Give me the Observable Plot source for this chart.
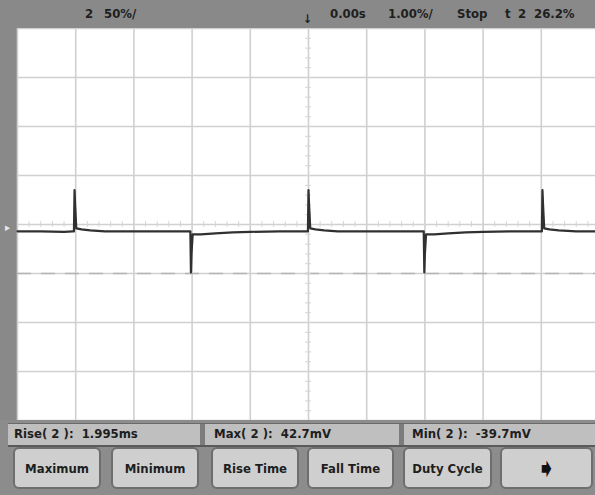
<!DOCTYPE html>
<html><head><meta charset="utf-8">
<script src="https://cdn.jsdelivr.net/npm/d3@7"></script>
<script src="https://cdn.jsdelivr.net/npm/@observablehq/plot@0.6"></script>
<style>
html,body{margin:0;padding:0;background:#8c8c8c;}
#scope{position:relative;width:595px;height:495px;overflow:hidden;background:#8c8c8c;
  font-family:"Liberation Sans Narrow","DejaVu Sans Condensed",sans-serif;font-weight:bold;color:#1e1e1e;}
.t{position:absolute;white-space:pre;font-size:13px;line-height:14px;}
#top{position:absolute;left:0;top:0;width:595px;height:28px;background:#898989;}
#plot{position:absolute;left:0;top:28px;}
#meas{position:absolute;left:8px;top:423px;width:587px;height:21px;background:#bfbfbf;border-top:1px solid #6a6a6a;border-bottom:2px solid #5a5a5a;}
.sep{position:absolute;top:0;width:5px;height:21px;background:#7c7c7c;}
.btn{position:absolute;top:447px;height:42px;background:#cfcfcf;border:2px solid #6e6e6e;border-radius:6px;box-sizing:border-box;
  display:flex;align-items:center;justify-content:center;font-size:13px;white-space:pre;}
</style></head>
<body>
<div id="scope">
  <div id="top"></div>
  <div id="plot"></div>
  <div id="meas"></div>
</div>
<script>
// ---- data ----
const timeTicks = [-5,-4,-3,-2,-1,0,1,2,3,4,5];            // ms, 1.00 ms/div
const voltTicks = [-200,-150,-100,-50,0,50,100,150,200];    // mV, 50 mV/div
const markerLevel = [-50];                                  // dashed level line (mV)
const traceT = [-5.00,-4.60,-4.20,-4.05,-4.03,-4.02,-4.01,-3.99,-3.90,-3.75,-3.50,-3.00,-2.50,-2.05,-2.03,-2.02,-2.01,-1.99,-1.85,-1.60,-1.30,-1.00,-0.50,-0.03,-0.01,0.00,0.01,0.03,0.12,0.27,0.50,1.00,1.50,1.96,1.98,1.99,2.00,2.02,2.16,2.40,2.70,3.00,3.50,3.99,4.01,4.02,4.03,4.05,4.14,4.30,4.60,5.00];
const traceV = [-7,-7,-7.5,-7,-7,35,20,-4,-5,-6,-7,-7,-7,-7,-7,-49,-30,-10,-10,-9,-8,-7.5,-7,-7,-7,35,20,-4,-5,-6,-7,-7,-7,-7,-7,-49,-30,-10,-10,-9,-8,-7.5,-7,-7,-7,35,20,-4,-5,-6,-7,-7];
const topLabels = [
  {text:"2", x:85}, {text:"50%/", x:104},
  {text:"0.00s", x:330}, {text:"1.00%/", x:388}, {text:"Stop", x:457},
  {text:"t", x:505}, {text:"2", x:518}, {text:"26.2%", x:534}
];
const measLabels = [
  {text:"Rise( 2 ):  1.995ms", x:14},
  {text:"Max( 2 ):  42.7mV", x:214},
  {text:"Min( 2 ):  -39.7mV", x:412}
];
const measSeps = [200, 399];
const buttons = [
  {label:"Maximum", x:13, w:88},
  {label:"Minimum", x:111, w:88},
  {label:"Rise Time", x:211, w:88},
  {label:"Fall Time", x:307, w:87},
  {label:"Duty Cycle", x:403, w:89},
  {label:"➧", x:500, w:93}
];
// ---- build ----
const trace = traceT.map((t,i)=>({t, v: traceV[i]}));
const minorT = d3.range(-5, 5.001, 0.2);
const minorV = d3.range(-200, 200.001, 10);

const chart = Plot.plot({
  width: 595, height: 392,
  marginLeft: 17, marginRight: 0, marginTop: 0, marginBottom: 0,
  x: {domain: [-5, 5], range: [17, 599], axis: null},
  y: {domain: [-200, 200], axis: null},
  style: {background: "#898989", overflow: "hidden"},
  marks: [
    Plot.frame({fill: "white", stroke: "none"}),
    Plot.ruleX(timeTicks, {stroke: "#d0d0d0", strokeWidth: 1.6}),
    Plot.ruleY(voltTicks, {stroke: "#d0d0d0", strokeWidth: 1.6}),
    Plot.ruleY(markerLevel, {stroke: "#b4b4b4", strokeWidth: 1.6, strokeDasharray: "14,10"}),
    Plot.ruleX(minorT, {y1: -3, y2: 3, stroke: "#d4d4d4", strokeWidth: 1}),
    Plot.ruleY(minorV, {x1: -0.05, x2: 0.05, stroke: "#d4d4d4", strokeWidth: 1}),
    Plot.line(trace, {x: "t", y: "v", stroke: "#303030", strokeWidth: 2.2})
  ]
});
document.getElementById("plot").appendChild(chart);

const scope = document.getElementById("scope");
const topBar = document.getElementById("top");
for (const l of topLabels) {
  const s = document.createElement("span");
  s.className = "t"; s.textContent = l.text;
  s.style.left = l.x + "px"; s.style.top = "7px";
  topBar.appendChild(s);
}
const trig = document.createElement("span");
trig.className = "t"; trig.textContent = "↓"; trig.style.left = "303px"; trig.style.top = "12px"; trig.style.fontSize = "12px";
topBar.appendChild(trig);
const gnd = document.createElement("span");
gnd.className = "t"; gnd.textContent = "▸"; gnd.style.left = "5px"; gnd.style.top = "221px"; gnd.style.color = "#e8e8e8"; gnd.style.fontSize = "11px";
scope.appendChild(gnd);

const meas = document.getElementById("meas");
for (const l of measLabels) {
  const s = document.createElement("span");
  s.className = "t"; s.textContent = l.text;
  s.style.left = (l.x - 8) + "px"; s.style.top = "3px";
  meas.appendChild(s);
}
for (const x of measSeps) {
  const d = document.createElement("div");
  d.className = "sep"; d.style.left = (x - 8) + "px";
  meas.appendChild(d);
}
for (const b of buttons) {
  const d = document.createElement("div");
  d.className = "btn"; d.textContent = b.label;
  d.style.left = b.x + "px"; d.style.width = b.w + "px";
  if (b.label === "➧") { d.style.fontSize = "26px"; d.style.color = "#111"; d.style.fontFamily = "DejaVu Sans"; }
  scope.appendChild(d);
}
</script>
</body></html>
